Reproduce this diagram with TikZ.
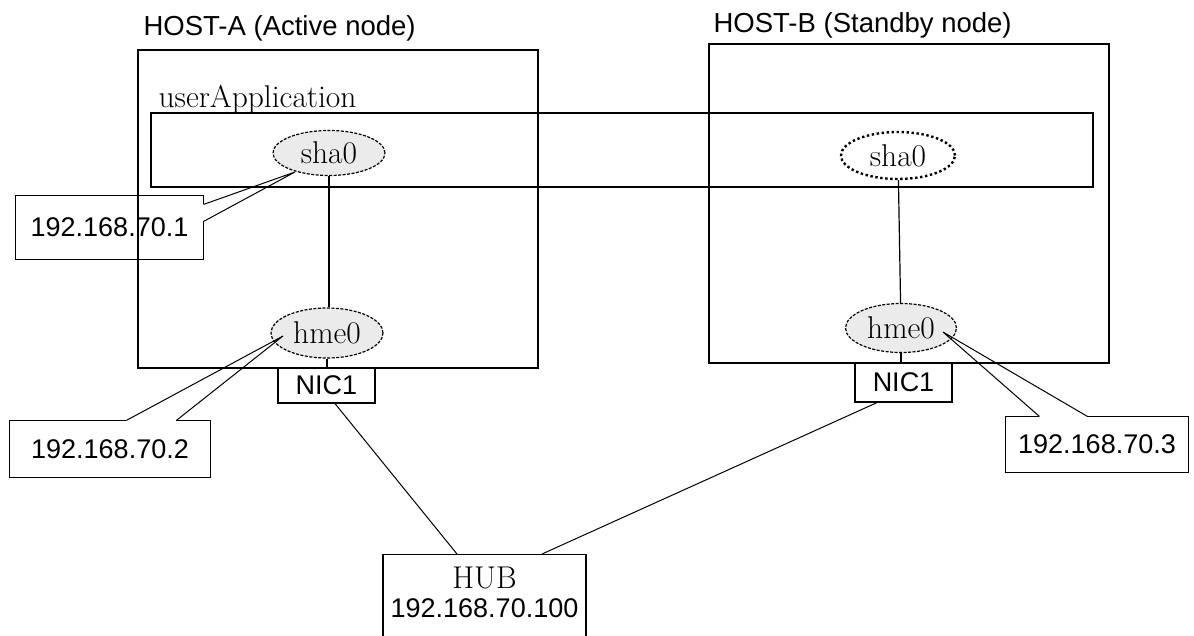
\documentclass[tikz,border=0pt]{standalone}
\usepackage{fontspec}
\setsansfont{Liberation Sans}
\usetikzlibrary{calc, positioning, shapes.geometric}
\definecolor{ifgray}{HTML}{EBEBEB}
\newcommand\lblsans{\sffamily\fontsize{27}{30}\selectfont}
\newcommand\lbltitle{\sffamily\fontsize{27.5}{30}\selectfont}
\newcommand\lblserif{\rmfamily\fontsize{31.5}{34}\selectfont}

\begin{document}
\begin{tikzpicture}[
  x=1pt, y=-1pt,
  line width=1.2pt,
  frame/.style={draw, inner sep=0pt},
  iface/.style={ellipse, draw, fill=ifgray, inner sep=0pt, font=\lblserif,
    dash pattern=on 3pt off 1.5pt},
  standby/.style={ellipse, draw, fill=white, inner sep=0pt, font=\lblserif,
    line width=2.4pt, dash pattern=on 2.4pt off 2.6pt},
  ipbox/.style={inner sep=0pt, font=\lblsans},
  nicbox/.style={draw, inner sep=0pt, minimum width=97pt, font=\lblsans},
  callout/.style={line width=1pt},
]
\useasboundingbox (0,0) rectangle (1194,635);
\clip (0,0) rectangle (1194,635);

% Hosts
\node[font=\lbltitle, anchor=base west, inner sep=0pt] (titlea) at (143,35) {HOST-A (Active node)};
\node[font=\lbltitle, anchor=base west, inner sep=0pt] (titleb) at (713,32) {HOST-B (Standby node)};
\node[frame, minimum width=400pt, minimum height=318pt] (hosta) at (338,209) {};
\node[frame, minimum width=400pt, minimum height=319pt] (hostb) at (909,203.5) {};

% userApplication
\node[frame, minimum width=942pt, minimum height=74pt] (userapp) at (622,150) {};
\node[font=\lblserif, anchor=base west, inner sep=0pt] (userlbl) at (158,107) {userApplication};

% Interfaces
\node[iface, minimum width=112pt, minimum height=45pt] (sha0a) at (329,153) {sha0};
\node[iface, minimum width=112pt, minimum height=50pt] (hme0a) at (327,333) {hme0};
\node[standby, minimum width=114pt, minimum height=47pt] (sha0b) at (898,155.5) {sha0};
\node[iface, minimum width=111pt, minimum height=49pt] (hme0b) at (901,328) {hme0};

\node[nicbox, minimum height=35pt] (nic1a) at (326.5,385.5) {NIC1};
\node[nicbox, minimum height=39pt] (nic1b) at (903.5,382.5) {NIC1};

\draw (sha0a.south) -- (sha0a.south |- hme0a.north);
\draw (hme0a.south) -- (hme0a.south |- nic1a.north);
\draw (sha0b) -- (hme0b);
\draw (hme0b.south) -- (hme0b.south |- nic1b.north);

% HUB
\node[frame, minimum width=203pt, minimum height=100pt, anchor=north] (hub) at (484.5,554) {};
\node[font=\lblserif, anchor=base, inner sep=0pt] (hubname) at ($(hub.north)+(0,34)$) {HUB};
\node[font=\lblsans, anchor=base, inner sep=0pt] (hubip) at ($(hub.north)+(0,63)$) {192.168.70.100};

\draw[callout] ($(nic1a.south)+(8.5,0)$) -- ($(hub.north)+(-27.5,0)$);
\draw[callout] ($(nic1b.south)+(-26.5,0)$) -- ($(hub.north)+(57.5,0)$);

% Addresses
\node[ipbox, minimum width=187pt, minimum height=63pt] (ipsha) at (109.5,227.5) {192.168.70.1};
\node[ipbox, minimum width=200pt, minimum height=56pt] (iphmea) at (110,449) {192.168.70.2};
\node[ipbox, minimum width=182pt, minimum height=55pt] (iphmeb) at (1097,444.5) {192.168.70.3};

\coordinate (tipsha) at ($(sha0a.center)+(-34,19)$);
\coordinate (tiphmea) at ($(hme0a.center)+(-44,3)$);
\coordinate (tiphmeb) at ($(hme0b.center)+(42,4)$);

\draw ($(ipsha.north east)+(0,9)$) -- (ipsha.north east) -- (ipsha.north west)
  -- (ipsha.south west) -- (ipsha.south east) -- ($(ipsha.north east)+(0,26)$);
\draw[callout] ($(ipsha.north east)+(0,9)$) -- (tipsha) -- ($(ipsha.north east)+(0,26)$);

\draw ($(iphmea.north west)+(117,0)$) -- (iphmea.north west) -- (iphmea.south west)
  -- (iphmea.south east) -- (iphmea.north east) -- ($(iphmea.north west)+(167,0)$);
\draw[callout] ($(iphmea.north west)+(117,0)$) -- (tiphmea) -- ($(iphmea.north west)+(167,0)$);

\draw ($(iphmeb.north west)+(34,0)$) -- (iphmeb.north west) -- (iphmeb.south west)
  -- (iphmeb.south east) -- (iphmeb.north east) -- ($(iphmeb.north west)+(82,0)$);
\draw[callout] ($(iphmeb.north west)+(34,0)$) -- (tiphmeb) -- ($(iphmeb.north west)+(82,0)$);
\end{tikzpicture}
\end{document}
